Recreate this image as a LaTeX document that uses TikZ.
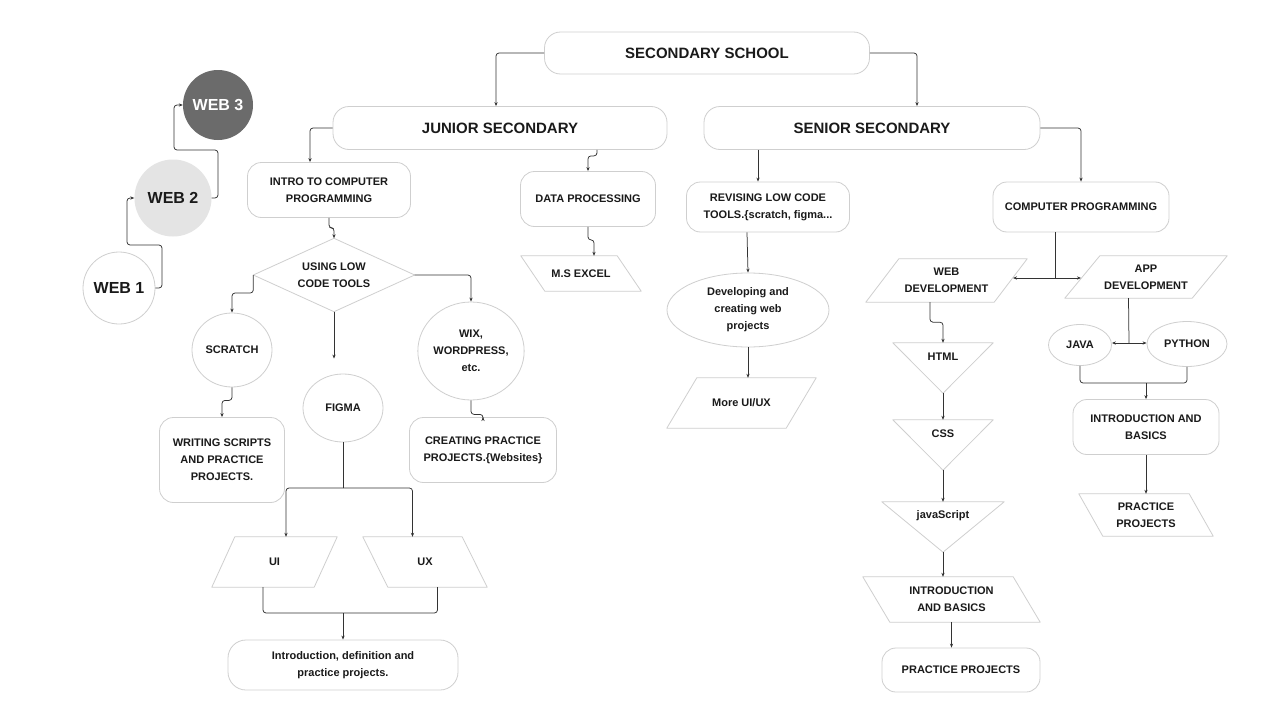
\documentclass[tikz,border=0pt]{standalone}
\usepackage{fontspec}
\setmainfont{Liberation Sans}
\usetikzlibrary{shapes.geometric,arrows.meta,calc}
\definecolor{bordc}{HTML}{CFCFCF}
\definecolor{linec}{HTML}{333333}
\definecolor{txtc}{HTML}{1A1A1A}
\definecolor{webthree}{HTML}{6B6B6B}
\definecolor{webtwo}{HTML}{E4E4E4}
\newcommand\bxf{\fontsize{11}{17}\selectfont\bfseries}
\newcommand\bgf{\fontsize{15}{18}\selectfont\bfseries}
\newcommand\wbf{\fontsize{16}{18}\selectfont\bfseries}
\newcommand\paraR[2]{\draw[shp] ($(#1.north west)+(#2,0)$) -- (#1.north east) -- ($(#1.south east)-(#2,0)$) -- (#1.south west) -- cycle;}
\newcommand\paraL[2]{\draw[shp] (#1.north west) -- ($(#1.north east)-(#2,0)$) -- (#1.south east) -- ($(#1.south west)+(#2,0)$) -- cycle;}
\newcommand\trishape[1]{\draw[shp] (#1.north west) -- (#1.north east) -- (#1.south) -- cycle;}
\begin{document}
\begin{tikzpicture}[x=1pt,y=-1pt,
 every node/.style={text=txtc, align=center, inner sep=0pt},
 sz/.style 2 args={minimum width=#1pt, minimum height=#2pt},
 rbox/.style={draw=bordc, line width=0.8pt, rounded corners=14pt, font=\bxf},
 ell/.style={ellipse, draw=bordc, line width=0.8pt, font=\bxf},
 plain/.style={font=\bxf},
 shp/.style={draw=bordc, line width=0.8pt, line join=round},
 con/.style={draw=linec, line width=0.75pt, rounded corners=3pt},
 arr/.style={con, -{Stealth[length=4pt,width=3.2pt]}},
]
\useasboundingbox (0,0) rectangle (1280,720);
\fill[white] (0,0) rectangle (1280,720);

% top level
\node[rbox, sz={325}{42}, font=\bgf, rounded corners=16pt] (ss) at (707,53) {SECONDARY SCHOOL};
\node[rbox, sz={334}{43}, font=\bgf, rounded corners=16pt] (jun) at (500,128) {JUNIOR SECONDARY};
\node[rbox, sz={336}{43}, font=\bgf, rounded corners=16pt] (sen) at (872,128) {SENIOR SECONDARY};

% web circles
\node[circle, minimum size=70pt, fill=webthree, text=white, font=\wbf] (web3) at (218,105) {WEB 3};
\node[circle, minimum size=77pt, fill=webtwo, font=\wbf] (web2) at (173,198) {WEB 2};
\node[circle, minimum size=72pt, draw=bordc, line width=0.8pt, font=\wbf] (web1) at (119,288) {WEB 1};

% junior branch
\node[rbox, sz={163}{55}] (intro) at (329,190) {INTRO TO COMPUTER\\PROGRAMMING};
\node[plain, sz={161}{73}] (dia) at (334,275) {USING LOW\\CODE TOOLS};
\draw[shp] (dia.north) -- (dia.east) -- (dia.south) -- (dia.west) -- cycle;
\node[ell, sz={80}{74}] (scratch) at (232,350) {SCRATCH};
\node[ell, sz={80}{68}] (figma) at (343,408) {FIGMA};
\node[ell, sz={105}{98}] (wix) at (471,351) {WIX,\\WORDPRESS,\\etc.};
\node[rbox, sz={125}{85}] (writing) at (222,460) {WRITING SCRIPTS\\AND PRACTICE\\PROJECTS.};
\node[rbox, sz={147}{65}] (creating) at (483,450) {CREATING PRACTICE\\PROJECTS.\{Websites\}};
\node[plain, sz={125}{50}] (ui) at (274.5,562) {UI}; \paraR{ui}{23}
\node[plain, sz={124}{50}] (ux) at (425,562) {UX}; \paraL{ux}{25}
\node[rbox, sz={230}{50}, rounded corners=18pt] (idef) at (343,665) {Introduction, definition and\\practice projects.};
\node[rbox, sz={135}{55}] (data) at (588,199) {DATA PROCESSING};
\node[plain, sz={120}{35}] (excel) at (581,273.5) {M.S EXCEL}; \paraL{excel}{24}

% senior branch
\node[rbox, sz={163}{50}] (rev) at (768,207) {REVISING LOW CODE\\TOOLS.\{scratch, figma...};
\node[ell, sz={162}{74}] (dev) at (748,310) {Developing and\\creating web\\projects};
\node[plain, sz={149}{50}] (more) at (741.5,403) {More UI/UX}; \paraR{more}{30}
\node[rbox, sz={176}{50}] (cp) at (1081,207) {COMPUTER PROGRAMMING};
\node[plain, sz={161}{43}] (webdev) at (946.5,280.5) {WEB\\DEVELOPMENT}; \paraR{webdev}{33}
\node[plain, sz={162}{42}] (appdev) at (1146,277) {APP\\DEVELOPMENT}; \paraR{appdev}{35}
\node[sz={100}{50}] (html) at (943,368) {}; \trishape{html}
\node[plain] (htmlt) at (943,357) {HTML};
\node[sz={100}{50}] (css) at (943,445) {}; \trishape{css}
\node[plain] (csst) at (943,434) {CSS};
\node[sz={122}{50}] (jsc) at (943,527) {}; \trishape{jsc}
\node[plain] (jsct) at (943,516) {javaScript};
\node[plain, sz={177}{45}] (introw) at (951.5,599.5) {INTRODUCTION\\AND BASICS}; \paraL{introw}{27}
\node[rbox, sz={158}{44}] (prac) at (961,670) {PRACTICE PROJECTS};
\node[ell, sz={63}{41}] (java) at (1080,345) {JAVA};
\node[ell, sz={80}{45}] (python) at (1187,344) {PYTHON};
\node[rbox, sz={146}{55}] (introa) at (1146,427) {INTRODUCTION AND\\BASICS};
\node[plain, sz={134}{42}] (prac2) at (1146,515) {PRACTICE\\PROJECTS}; \paraL{prac2}{24}

% helper coordinates
\coordinate (fsplit) at (343,488);
\coordinate (uimerge) at (343,613);
\coordinate (cpsplit) at (1055,278);
\coordinate (wdedge) at (1013,278);
\coordinate (adedge) at (1081,278);
\coordinate (asplit) at (1129,343);
\coordinate (jpmerge) at (1146,383);

% connectors: top
\draw[arr] (ss.west) -| ([xshift=-4pt]jun.north);
\draw[arr] (ss.east) -| ([xshift=45pt]sen.north);
\draw[arr] (jun.west) -| ([xshift=-19pt]intro.north);
\draw[arr] ([xshift=97pt]jun.south) -- ++(0,6) -| (data.north);
\draw[arr] ([xshift=-114pt]sen.south) -- ([xshift=-10pt]rev.north);
\draw[arr] (sen.east) -| (cp.north);

% web chain
\draw[arr] (web1.east) -- (162,288) -- (162,245) -- (127,245) -- (127,198) -- (web2.west);
\draw[arr] (web2.east) -- (218,198) -- (218,150) -- (174,150) -- (174,105) -- (web3.west);

% junior connectors
\draw[arr] (intro.south) -- ++(0,10) -| (dia.north);
\draw[arr] (dia.west) -- ++(0,18) -| (scratch.north);
\draw[arr, shorten >=15pt] (dia.south) -- (dia.south |- figma.north);
\draw[arr] (dia.east) -| (wix.north);
\draw[arr] (scratch.south) -- ++(0,13) -| (writing.north);
\draw[arr] (wix.south) -- ++(0,14) -| (creating.north);
\draw[con] (figma.south) -- (fsplit);
\draw[arr] (fsplit) -| ([xshift=11.5pt]ui.north);
\draw[arr] (fsplit) -| ([xshift=-12.5pt]ux.north);
\draw[con] ([xshift=-11.5pt]ui.south) |- (uimerge) -| ([xshift=12.5pt]ux.south);
\draw[arr] (uimerge) -- (idef.north);
\draw[arr] (data.south) -- ++(0,13) -| ([xshift=13pt]excel.north);

% senior connectors
\draw[arr] ([xshift=-21pt]rev.south) -- (dev.north);
\draw[arr] (dev.south) -- (dev.south |- more.north);
\draw[con] ([xshift=-26pt]cp.south) -- (cpsplit);
\draw[arr] (cpsplit) -- (wdedge);
\draw[arr] (cpsplit) -- (adedge);
\draw[arr] ([xshift=-16.5pt]webdev.south) -- ++(0,20) -| (html.north);
\draw[arr] (html.south) -- (css.north);
\draw[arr] (css.south) -- (jsc.north);
\draw[arr] (jsc.south) -- (jsc.south |- introw.north);
\draw[arr] (introw.south) -- (introw.south |- prac.north);
\draw[con] ([xshift=-17.5pt]appdev.south) -- (asplit);
\draw[arr] (asplit) -- (java.east |- asplit);
\draw[arr] (asplit) -- (python.west |- asplit);
\draw[con] (java.south) |- (jpmerge) -| (python.south);
\draw[arr] (jpmerge) -- (introa.north);
\draw[arr] (introa.south) -- (introa.south |- prac2.north);
\end{tikzpicture}
\end{document}
